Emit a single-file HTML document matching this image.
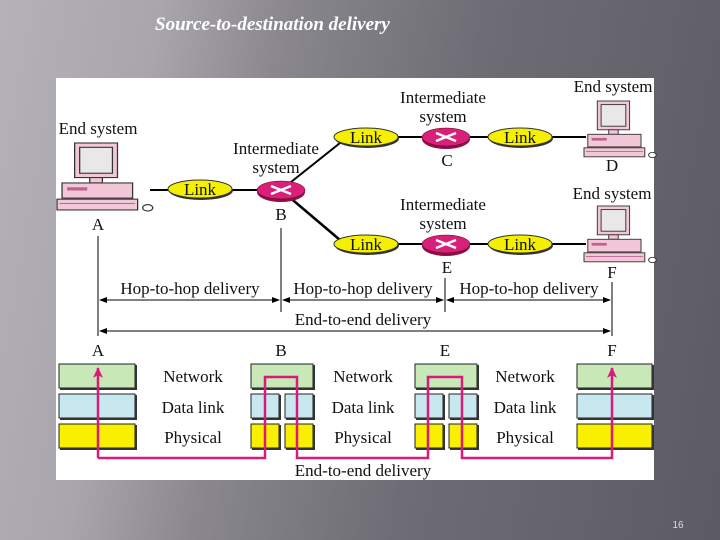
<!DOCTYPE html>
<html><head><meta charset="utf-8"><style>
html,body{margin:0;padding:0;width:720px;height:540px;overflow:hidden}
body{background:linear-gradient(100deg,#b4b2b8 0%,#a8a6ac 20%,#8a888e 35%,#6e6c74 60%,#5c5a62 100%)}
</style></head><body>
<svg width="720" height="540" xmlns="http://www.w3.org/2000/svg" style="position:absolute;left:0;top:0">
<defs>
<marker id="ar" markerWidth="8" markerHeight="8" refX="7" refY="4" orient="auto" markerUnits="userSpaceOnUse"><path d="M0,1 L8,4 L0,7 Z" fill="#000"/></marker>
<marker id="pk" markerWidth="12" markerHeight="12" refX="10" refY="6" orient="auto" markerUnits="userSpaceOnUse"><path d="M0,1 L11,6 L0,11 L3,6 Z" fill="#d81a78"/></marker>
<g id="pc">
<rect x="14" y="0" width="34" height="32" fill="#f2c8d8" stroke="#333" stroke-width="1"/>
<rect x="18" y="4" width="26" height="24" fill="#e8e8e8" stroke="#333" stroke-width="1"/>
<rect x="26" y="32" width="10" height="5" fill="#f2c8d8" stroke="#333"/>
<rect x="4" y="37" width="56" height="14" fill="#f2c8d8" stroke="#333"/>
<rect x="8" y="41" width="16" height="3" fill="#c06090"/>
<rect x="0" y="52" width="64" height="10" fill="#f2c8d8" stroke="#333"/>
<line x1="2" y1="56" x2="62" y2="56" stroke="#c06090"/>
<ellipse cx="72" cy="60" rx="4" ry="3" fill="#fff" stroke="#333"/>
</g>
<g id="rt">
<ellipse cx="0" cy="2" rx="24" ry="10" fill="#8a1048"/>
<ellipse cx="0" cy="0" rx="24" ry="9" fill="#d8207a" stroke="#600" stroke-width="0.5"/>
<path d="M-10,-4 L10,4 M-10,4 L10,-4" stroke="#fff" stroke-width="2.5"/>
</g>
<g id="lk">
<ellipse cx="1" cy="1.5" rx="32" ry="9.5" fill="#333"/>
<ellipse cx="0" cy="0" rx="32" ry="9" fill="#f4f000" stroke="#333"/>
</g>
</defs>
<text x="155" y="30" font-family="Liberation Serif,serif" font-size="19" font-style="italic" font-weight="bold" fill="#fff">Source-to-destination delivery</text>
<rect x="56" y="78" width="598" height="402" fill="#fff"/>
<g font-family="Liberation Serif,serif" font-size="17" fill="#111" text-anchor="middle">
<line x1="150" y1="190" x2="260" y2="190" stroke="#000" stroke-width="2"/>
<line x1="281" y1="190" x2="340" y2="143" stroke="#000" stroke-width="2"/>
<line x1="281" y1="190" x2="340" y2="240" stroke="#000" stroke-width="2.5"/>
<line x1="340" y1="137" x2="586" y2="137" stroke="#000" stroke-width="2"/>
<line x1="340" y1="244" x2="586" y2="244" stroke="#000" stroke-width="2"/>
<use href="#pc" transform="translate(57,143) scale(1.26,1.08)"/>
<use href="#pc" transform="translate(584,101) scale(0.95,0.9)"/>
<use href="#pc" transform="translate(584,206) scale(0.95,0.9)"/>
<use href="#lk" x="200" y="189"/>
<use href="#lk" x="366" y="137"/><use href="#lk" x="520" y="137"/>
<use href="#lk" x="366" y="244"/><use href="#lk" x="520" y="244"/>
<use href="#rt" x="281" y="190"/>
<use href="#rt" x="446" y="137"/>
<use href="#rt" x="446" y="244"/>
<text x="200" y="195">Link</text>
<text x="366" y="143">Link</text><text x="520" y="143">Link</text>
<text x="366" y="250">Link</text><text x="520" y="250">Link</text>
<text x="98" y="134">End system</text>
<text x="276" y="154">Intermediate</text><text x="276" y="173">system</text>
<text x="443" y="103">Intermediate</text><text x="443" y="122">system</text>
<text x="443" y="210">Intermediate</text><text x="443" y="229">system</text>
<text x="613" y="92">End system</text>
<text x="612" y="199">End system</text>
<text x="98" y="230">A</text><text x="281" y="220">B</text><text x="447" y="166">C</text>
<text x="612" y="171">D</text><text x="447" y="273">E</text><text x="612" y="278">F</text>
<g stroke="#000" stroke-width="1">
<line x1="98" y1="236" x2="98" y2="336"/><line x1="281" y1="228" x2="281" y2="312"/>
<line x1="445" y1="278" x2="445" y2="312"/><line x1="612" y1="282" x2="612" y2="336"/>
<line x1="100" y1="300" x2="279" y2="300" marker-end="url(#ar)"/><line x1="279" y1="300" x2="100" y2="300" marker-end="url(#ar)"/>
<line x1="283" y1="300" x2="443" y2="300" marker-end="url(#ar)"/><line x1="443" y1="300" x2="283" y2="300" marker-end="url(#ar)"/>
<line x1="447" y1="300" x2="610" y2="300" marker-end="url(#ar)"/><line x1="610" y1="300" x2="447" y2="300" marker-end="url(#ar)"/>
<line x1="100" y1="331" x2="610" y2="331" marker-end="url(#ar)"/><line x1="610" y1="331" x2="100" y2="331" marker-end="url(#ar)"/>
</g>
<rect x="114" y="279" width="152" height="17" fill="#fff"/><rect x="288" y="279" width="152" height="17" fill="#fff"/><rect x="453" y="279" width="152" height="17" fill="#fff"/>
<text x="190" y="294">Hop-to-hop delivery</text><text x="363" y="294">Hop-to-hop delivery</text><text x="529" y="294">Hop-to-hop delivery</text>
<rect x="290" y="311" width="146" height="16" fill="#fff"/>
<text x="363" y="325">End-to-end delivery</text>
<text x="98" y="356">A</text><text x="281" y="356">B</text><text x="445" y="356">E</text><text x="612" y="356">F</text>
<g stroke="#222" stroke-width="1">
<g fill="#c8e8b8"><rect x="59" y="364" width="76" height="24"/><rect x="251" y="364" width="62" height="24"/><rect x="415" y="364" width="62" height="24"/><rect x="577" y="364" width="75" height="24"/></g>
<g fill="#c8e8f0"><rect x="59" y="394" width="76" height="24"/><rect x="251" y="394" width="28" height="24"/><rect x="285" y="394" width="28" height="24"/><rect x="415" y="394" width="28" height="24"/><rect x="449" y="394" width="28" height="24"/><rect x="577" y="394" width="75" height="24"/></g>
<g fill="#f8f000"><rect x="59" y="424" width="76" height="24"/><rect x="251" y="424" width="28" height="24"/><rect x="285" y="424" width="28" height="24"/><rect x="415" y="424" width="28" height="24"/><rect x="449" y="424" width="28" height="24"/><rect x="577" y="424" width="75" height="24"/></g>
</g>
<g stroke="#333" stroke-width="2" fill="none">
<path d="M136,365 V389 H60"/><path d="M314,365 V389 H252"/><path d="M478,365 V389 H416"/><path d="M653,365 V389 H578"/>
<path d="M136,395 V419 H60"/><path d="M280,395 V419 H252"/><path d="M314,395 V419 H286"/><path d="M444,395 V419 H416"/><path d="M478,395 V419 H450"/><path d="M653,395 V419 H578"/>
<path d="M136,425 V449 H60"/><path d="M280,425 V449 H252"/><path d="M314,425 V449 H286"/><path d="M444,425 V449 H416"/><path d="M478,425 V449 H450"/><path d="M653,425 V449 H578"/>
</g>
<text x="193" y="382">Network</text><text x="363" y="382">Network</text><text x="525" y="382">Network</text>
<text x="193" y="413">Data link</text><text x="363" y="413">Data link</text><text x="525" y="413">Data link</text>
<text x="193" y="443">Physical</text><text x="363" y="443">Physical</text><text x="525" y="443">Physical</text>
<path d="M98,458 H265 V377 H297 V458 H428 V377 H462 V458 H612 V368" stroke="#d81a78" stroke-width="2.5" fill="none" marker-end="url(#pk)"/>
<path d="M98,458 V368" stroke="#d81a78" stroke-width="2.5" fill="none" marker-end="url(#pk)"/>
<text x="363" y="476">End-to-end delivery</text>
</g>
<text x="678" y="528" font-family="Liberation Sans,sans-serif" font-size="10" fill="#ddd" text-anchor="middle">16</text>
</svg>
</body></html>
